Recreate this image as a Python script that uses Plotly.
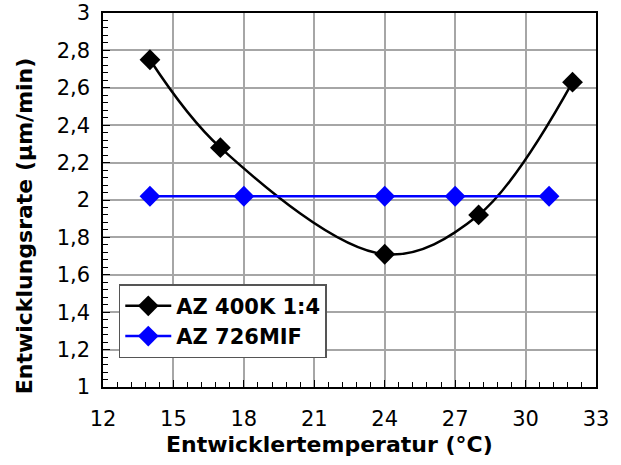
import plotly.graph_objects as go

temp_az400 = [14, 17, 24, 28, 32]
rate_az400 = [2.75, 2.28, 1.71, 1.92, 2.63]
temp_az726 = [14, 18, 24, 27, 31]
rate_az726 = [2.02, 2.02, 2.02, 2.02, 2.02]
name_az400 = "AZ 400K 1:4"
name_az726 = "AZ 726MIF"
x_title = "Entwicklertemperatur (°C)"
y_title = "Entwicklungsrate (µm/min)"

fig = go.Figure()
fig.add_trace(go.Scatter(x=temp_az400, y=rate_az400, name=name_az400, mode="lines+markers",
                         line=dict(color="black", width=2.5, shape="spline", smoothing=1.0),
                         marker=dict(symbol="diamond", size=16, color="black")))
fig.add_trace(go.Scatter(x=temp_az726, y=rate_az726, name=name_az726, mode="lines+markers",
                         line=dict(color="#0000ff", width=2.5),
                         marker=dict(symbol="diamond", size=16, color="#0000ff")))

grid = "#a6a6a6"
fig.update_layout(
    width=621, height=465,
    margin=dict(l=103, r=25, t=13, b=78),
    plot_bgcolor="white", paper_bgcolor="white",
    separators=",.",
    font=dict(family="DejaVu Sans", size=21, color="black"),
    showlegend=True,
    legend=dict(x=0.032, y=0.275, xanchor="left", yanchor="top",
                bordercolor="#555555", borderwidth=1.5, bgcolor="white",
                font=dict(family="DejaVu Sans", size=21, weight="bold"),
                tracegroupgap=0, itemwidth=46),
    annotations=[
        dict(text=x_title, xref="paper", yref="paper", x=0.46, y=-0.155,
             xanchor="center", yanchor="middle", showarrow=False,
             font=dict(size=22, weight="bold")),
        dict(text=y_title, xref="paper", yref="paper", x=-0.160, y=0.43,
             xanchor="center", yanchor="middle", showarrow=False, textangle=-90,
             font=dict(size=22, weight="bold")),
    ],
)
fig.update_xaxes(range=[12, 33], dtick=3, tick0=12, showgrid=True, gridcolor=grid, gridwidth=1.5,
                 ticks="inside", ticklen=7, tickcolor="black", ticklabelstandoff=12, automargin=False,
                 minor=dict(dtick=0.6, tick0=12, ticks="inside", ticklen=5, tickcolor="black", showgrid=False),
                 showline=True, linecolor="black", linewidth=2, mirror=True, zeroline=False)
fig.update_yaxes(range=[1, 3], dtick=0.2, tick0=1, showgrid=True, gridcolor=grid, gridwidth=1.5,
                 ticks="inside", ticklen=7, tickcolor="black", ticksuffix=" ", automargin=False,
                 minor=dict(dtick=0.04, tick0=1, ticks="inside", ticklen=5, tickcolor="black", showgrid=False),
                 showline=True, linecolor="black", linewidth=2, mirror=True, zeroline=False)

fig.write_html("out.html")
